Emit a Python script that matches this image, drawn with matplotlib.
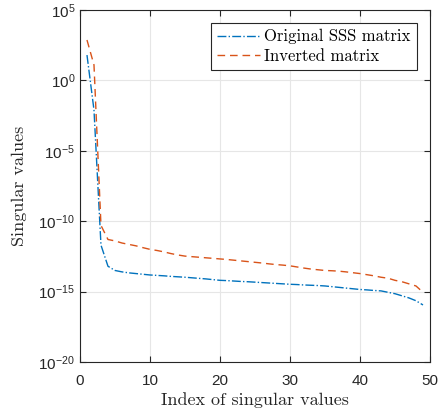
import numpy as np
import matplotlib
matplotlib.use("Agg")
from matplotlib import pyplot as plt
from matplotlib.ticker import NullLocator

# singular values, stored as log10 exponents
idx = np.arange(1, 50)
log_original = [1.8, -2.1, -11.7, -13.2, -13.5, -13.6, -13.67, -13.72, -13.77, -13.82,
                -13.85, -13.88, -13.92, -13.95, -13.98, -14.02, -14.06, -14.1, -14.15, -14.2,
                -14.22, -14.25, -14.28, -14.3, -14.33, -14.36, -14.39, -14.42, -14.45, -14.48,
                -14.5, -14.53, -14.55, -14.57, -14.6, -14.65, -14.7, -14.75, -14.8, -14.85,
                -14.88, -14.92, -14.95, -15.05, -15.15, -15.3, -15.45, -15.65, -15.95]
log_inverted = [2.87, 1.1, -10.3, -11.3, -11.4, -11.55, -11.65, -11.75, -11.88, -12.0,
                -12.08, -12.18, -12.3, -12.4, -12.48, -12.52, -12.56, -12.6, -12.64, -12.68,
                -12.72, -12.77, -12.82, -12.87, -12.92, -12.97, -13.03, -13.08, -13.12, -13.17,
                -13.25, -13.33, -13.4, -13.45, -13.5, -13.52, -13.55, -13.6, -13.66, -13.72,
                -13.8, -13.88, -13.98, -14.05, -14.2, -14.3, -14.45, -14.6, -15.05]
sv_original = 10.0 ** np.array(log_original)
sv_inverted = 10.0 ** np.array(log_inverted)

plt.rcParams["mathtext.fontset"] = "custom"
plt.rcParams["mathtext.rm"] = "Liberation Sans"
plt.rcParams["mathtext.it"] = "Liberation Sans"
plt.rcParams["font.family"] = "Liberation Sans"
plt.rcParams["axes.unicode_minus"] = False

fig = plt.figure(figsize=(4.38, 4.13), dpi=100)
ax = fig.add_axes([0.1826, 0.1235, 0.7991, 0.8523])

ax.semilogy(idx, sv_original, linestyle="-.", color="#0072BD", lw=1.0,
            label="Original SSS matrix")
ax.semilogy(idx, sv_inverted, linestyle=(0, (5.5, 3.5)), color="#D95319", lw=1.0,
            label="Inverted matrix")

ax.set_xlim(0, 50)
ax.set_ylim(1e-20, 1e5)
ax.set_xticks([0, 10, 20, 30, 40, 50])
ax.set_yticks([1e-20, 1e-15, 1e-10, 1e-5, 1e0, 1e5])
ax.yaxis.set_minor_locator(NullLocator())
ax.grid(True, color="#e6e6e6", lw=0.8)
ax.set_axisbelow(True)

ax.tick_params(direction="in", which="both", top=True, right=True,
               labelsize=11, color="#262626", labelcolor="#262626", length=4, width=0.8)
ax.tick_params(axis="x", pad=8.5)
for sp in ax.spines.values():
    sp.set_color("#262626")
    sp.set_linewidth(0.8)

ax.set_xlabel("Index of singular values", fontfamily="cmr10", fontsize=13,
              color="#262626", labelpad=3)
ax.set_ylabel("Singular values", fontfamily="cmr10", fontsize=13,
              color="#262626", labelpad=8.5)

leg = ax.legend(loc="upper right", prop={"family": "cmr10", "size": 12},
                fancybox=False, edgecolor="#262626", framealpha=1,
                handlelength=2.6, borderpad=0.35, labelspacing=0.25,
                handletextpad=0.25, borderaxespad=0.8)
leg.get_frame().set_linewidth(0.8)

fig.savefig("out.png", dpi=100)
